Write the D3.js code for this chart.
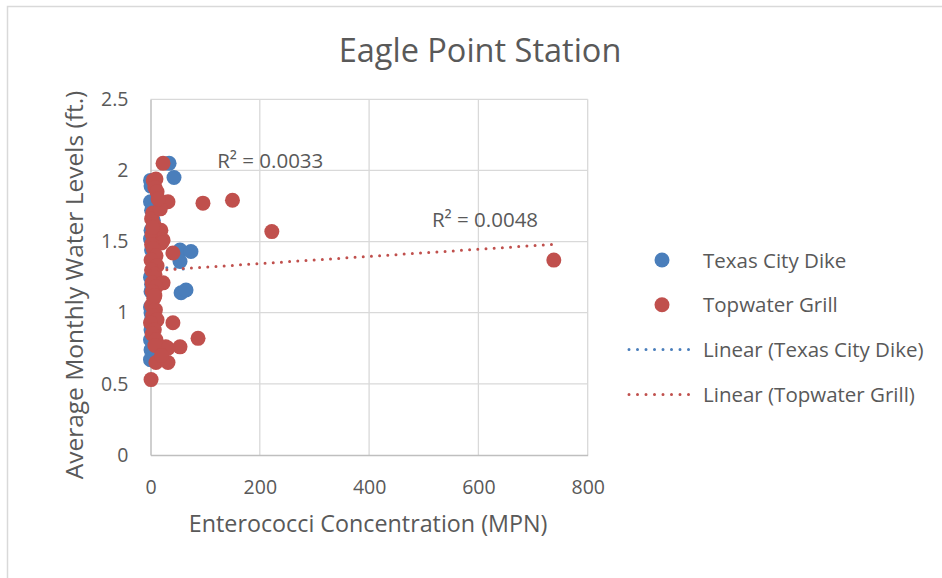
<!DOCTYPE html>
<html>
<head>
<meta charset="utf-8">
<script src="https://cdn.jsdelivr.net/npm/d3@7/dist/d3.min.js"></script>
<style>
  html, body { margin: 0; padding: 0; background: #fff; }
  svg { display: block; font-family: "Open Sans", "Liberation Sans", sans-serif; }
</style>
</head>
<body>
<svg id="chart" width="942" height="578"></svg>
<script>
// ---- Data ----
const title = "Eagle Point Station";
const xAxisTitle = "Enterococci Concentration (MPN)";
const yAxisTitle = "Average Monthly Water Levels (ft.)";
const xTicks = [0, 200, 400, 600, 800];
const yTicks = [0, 0.5, 1, 1.5, 2, 2.5];
const seriesNames = ["Texas City Dike", "Topwater Grill"];

// Texas City Dike
const tcdX = [34, 43, 0, 1, 0, 2, 1, 0, 2, 54, 74, 54, 0, 2, 1, 56, 65, 0, 1, 2, 1, 0, 1, 0, 17, 5, 3];
const tcdY = [2.05, 1.95, 1.93, 1.89, 1.78, 1.72, 1.58, 1.52, 1.44, 1.44, 1.43, 1.36, 1.25, 1.20, 1.15, 1.14, 1.16, 1.04, 1.00, 0.95, 0.88, 0.81, 0.74, 0.67, 0.74, 1.65, 1.30];

// Topwater Grill
const twgX = [23, 5, 10, 8, 12, 32, 96, 150, 4, 2, 6, 19, 15, 3, 23, 20, 2, 41, 5, 10, 1, 222, 738, 12, 2, 8, 3, 23, 10, 3, 6, 2, 9, 4, 12, 0, 41, 7, 3, 10, 87, 54, 28, 8, 32, 10, 32, 1, 18, 8, 14, 4, 20];
const twgY = [2.05, 1.93, 1.94, 1.88, 1.85, 1.78, 1.77, 1.79, 1.70, 1.66, 1.62, 1.58, 1.57, 1.55, 1.51, 1.49, 1.48, 1.42, 1.45, 1.40, 1.37, 1.57, 1.37, 1.33, 1.30, 1.27, 1.21, 1.21, 1.18, 1.15, 1.10, 1.05, 1.02, 0.98, 0.95, 0.93, 0.93, 0.88, 0.85, 0.81, 0.82, 0.76, 0.76, 0.77, 0.75, 0.65, 0.65, 0.53, 1.73, 1.12, 1.80, 1.60, 0.70];

// Trendlines: intercept, slope, x range
const tcdTrend = { intercept: 1.325, slope: -0.0003, xMin: 0, xMax: 74 };
const twgTrend = { intercept: 1.295, slope: 0.000252, xMin: 0, xMax: 738 };
const rSquared = ["R² = 0.0033", "R² = 0.0048"];
const rLabelPos = [[122, 2.015], [515, 1.60]];

const colors = ["#4a7ebb", "#c0504d"];

// ---- Chart ----
const svg = d3.select("#chart");
const W = 942, H = 578;
const margin = { left: 150.5, right: W - 587.7, top: 99.3, bottom: H - 455 };
const textColor = "#595959";

// outer chart border
svg.append("path")
  .attr("d", `M7.5,${H} V6.5 H${W}`)
  .attr("fill", "none").attr("stroke", "#d9d9d9").attr("stroke-width", 1.5);

const x = d3.scaleLinear().domain([0, 800]).range([margin.left, W - margin.right]);
const y = d3.scaleLinear().domain([0, 2.5]).range([H - margin.bottom, margin.top]);

// gridlines
const grid = svg.append("g");
grid.selectAll(".gy").data(yTicks.filter(d => d > 0)).join("line")
  .attr("x1", x(0)).attr("x2", x(800))
  .attr("y1", d => y(d)).attr("y2", d => y(d))
  .attr("stroke", "#d9d9d9").attr("stroke-width", 1.3);
grid.selectAll(".gx").data(xTicks.filter(d => d > 0)).join("line")
  .attr("x1", d => x(d)).attr("x2", d => x(d))
  .attr("y1", y(0)).attr("y2", y(2.5))
  .attr("stroke", "#d9d9d9").attr("stroke-width", 1.3);

// axes
const xAxis = svg.append("g").attr("transform", `translate(0,${y(0)})`)
  .call(d3.axisBottom(x).tickValues(xTicks).tickSize(0).tickPadding(25).tickFormat(d3.format("d")));
const yAxis = svg.append("g").attr("transform", `translate(${x(0)},0)`)
  .call(d3.axisLeft(y).tickValues(yTicks).tickSize(0).tickPadding(22).tickFormat(d => String(d)));
[xAxis, yAxis].forEach(g => {
  g.select(".domain").attr("stroke", "#bfbfbf").attr("stroke-width", 1.5);
  g.selectAll("text").attr("fill", textColor).style("font-size", "19.5px")
    .style("font-family", "\"Open Sans\", sans-serif");
});

// trendlines
function trendLine(t, color) {
  const pts = [t.xMin, t.xMax].map(v => [x(v), y(t.intercept + t.slope * v)]);
  svg.append("path").attr("d", d3.line()(pts))
    .attr("fill", "none").attr("stroke", color).attr("stroke-width", 3)
    .attr("stroke-dasharray", "0 8.2").attr("stroke-linecap", "round");
}

// points
const tcd = tcdX.map((v, i) => [v, tcdY[i]]);
const twg = twgX.map((v, i) => [v, twgY[i]]);
svg.append("g").selectAll("circle").data(tcd).join("circle")
  .attr("cx", d => x(d[0])).attr("cy", d => y(d[1])).attr("r", 7.5).attr("fill", colors[0]);
trendLine(tcdTrend, colors[0]);
svg.append("g").selectAll("circle").data(twg).join("circle")
  .attr("cx", d => x(d[0])).attr("cy", d => y(d[1])).attr("r", 7.5).attr("fill", colors[1]);
trendLine(twgTrend, colors[1]);

// R² labels
svg.append("g").selectAll("text").data(rSquared).join("text")
  .attr("x", (d, i) => x(rLabelPos[i][0])).attr("y", (d, i) => y(rLabelPos[i][1]))
  .attr("fill", textColor).style("font-size", "20.5px").text(d => d);

// title
svg.append("text").attr("x", 480).attr("y", 62).attr("text-anchor", "middle")
  .attr("fill", textColor).style("font-size", "32.5px").text(title);

// axis titles
svg.append("text").attr("x", x(400) - 1).attr("y", 532).attr("text-anchor", "middle")
  .attr("fill", textColor).style("font-size", "23.3px").text(xAxisTitle);
svg.append("text").attr("transform", `translate(83,285) rotate(-90)`).attr("text-anchor", "middle")
  .attr("fill", textColor).style("font-size", "24.5px").text(yAxisTitle);

// legend
const legendItems = [
  { label: seriesNames[0], type: "dot", color: colors[0] },
  { label: seriesNames[1], type: "dot", color: colors[1] },
  { label: "Linear (" + seriesNames[0] + ")", type: "line", color: colors[0] },
  { label: "Linear (" + seriesNames[1] + ")", type: "line", color: colors[1] }
];
const lg = svg.append("g");
legendItems.forEach((it, i) => {
  const cy = 260 + i * 44.8;
  if (it.type === "dot") {
    lg.append("circle").attr("cx", 662).attr("cy", cy).attr("r", 7.5).attr("fill", it.color);
  } else {
    lg.append("line").attr("x1", 629).attr("x2", 697).attr("y1", cy).attr("y2", cy)
      .attr("stroke", it.color).attr("stroke-width", 3)
      .attr("stroke-dasharray", "0 8.5").attr("stroke-linecap", "round");
  }
  lg.append("text").attr("x", 703).attr("y", cy + 7.5).attr("fill", textColor)
    .style("font-size", "20.5px").text(it.label);
});
</script>
</body>
</html>
